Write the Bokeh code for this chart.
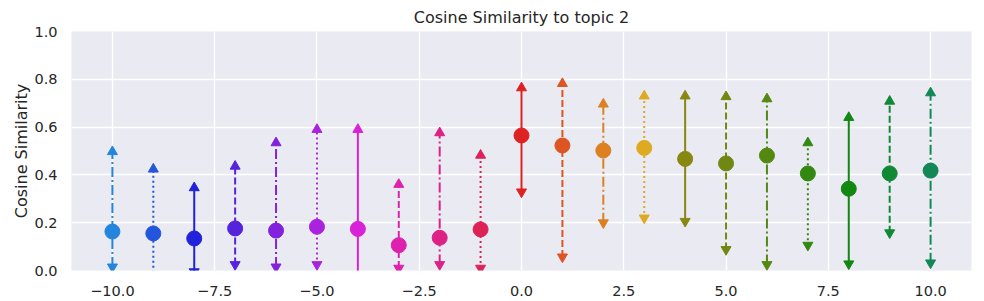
from bokeh.plotting import figure
from bokeh.models import ColumnDataSource, FixedTicker, Range1d, CustomJSTickFormatter
from bokeh.embed import file_html
from bokeh.resources import INLINE

# ---- data ----
xs = [-10, -9, -8, -7, -6, -5, -4, -3, -2, -1, 0, 1, 2, 3, 4, 5, 6, 7, 8, 9, 10]
means = [0.163, 0.155, 0.134, 0.176, 0.167, 0.183, 0.174, 0.106, 0.137, 0.172,
         0.565, 0.523, 0.502, 0.513, 0.467, 0.448, 0.481, 0.406, 0.342, 0.406, 0.418]
upper = [0.497, 0.424, 0.346, 0.436, 0.534, 0.590, 0.590, 0.360, 0.576, 0.482,
         0.764, 0.782, 0.696, 0.730, 0.730, 0.727, 0.718, 0.534, 0.640, 0.708, 0.743]
lower = [0.015, -0.030, -0.005, 0.025, 0.015, 0.025, -0.030, 0.010, 0.025, 0.010,
         0.329, 0.057, 0.200, 0.220, 0.206, 0.088, 0.025, 0.106, 0.028, 0.158, 0.032]
colors = ["#2385dd", "#2355dd", "#2222dd", "#5522dd", "#8322dd", "#aa22dd", "#d822d8",
          "#dd22b0", "#dd2285", "#dd2255", "#dd2222", "#dd5522", "#dd8022", "#ddaa22",
          "#888811", "#6e8811", "#558811", "#338811", "#118811", "#118833", "#118855"]
styles = ["dashdot", "dotted", "solid", "dashed"]  # cycle starting at x=-10
x_ticks = [-10, -7.5, -5, -2.5, 0, 2.5, 5, 7.5, 10]
y_ticks = [0.0, 0.2, 0.4, 0.6, 0.8, 1.0]
title = "Cosine Similarity to topic 2"
ylabel = "Cosine Similarity"

dash_map = {"solid": "solid", "dashed": "7 3", "dashdot": "10 3 2 3", "dotted": "2 3"}
FONT = "DejaVu Sans"
TXT = "#262626"

p = figure(frame_width=900, frame_height=239, output_backend="svg", toolbar_location=None,
           x_range=Range1d(-11, 11), y_range=Range1d(0, 1),
           min_border_left=71, min_border_right=4, min_border_top=24, min_border_bottom=22,
           background_fill_color="#eaeaf2", border_fill_color="white",
           outline_line_color=None, title=title)

p.title.align = "center"
p.title.text_font = FONT
p.title.text_font_size = "16px"
p.title.text_font_style = "normal"
p.title.text_color = TXT

fmt = CustomJSTickFormatter(code="return tick.toFixed(1).replace('-', '\\u2212');")
p.xaxis.ticker = FixedTicker(ticks=x_ticks)
p.yaxis.ticker = FixedTicker(ticks=y_ticks)
p.xaxis.formatter = fmt
p.yaxis.formatter = fmt
for ax in (p.xaxis, p.yaxis):
    ax.axis_line_color = None
    ax.major_tick_line_color = None
    ax.minor_tick_line_color = None
    ax.major_tick_out = 0
    ax.major_tick_in = 0
    ax.minor_tick_out = 0
    ax.minor_tick_in = 0
    ax.major_label_text_font = FONT
    ax.major_label_text_font_size = "14.5px"
    ax.major_label_text_color = TXT
p.xaxis.major_label_standoff = 15
p.yaxis.major_label_standoff = 14
p.yaxis.axis_label = ylabel
p.yaxis.axis_label_text_font = FONT
p.yaxis.axis_label_text_font_size = "16px"
p.yaxis.axis_label_text_font_style = "normal"
p.yaxis.axis_label_text_color = TXT
p.yaxis.axis_label_standoff = 0

p.grid.grid_line_color = "white"
p.grid.grid_line_width = 1.3

for i, x in enumerate(xs):
    style = styles[i % 4]
    src = ColumnDataSource(dict(x=[x], m=[means[i]], lo=[lower[i]], hi=[upper[i]], c=[colors[i]]))
    p.segment(x0="x", y0="lo", x1="x", y1="hi", source=src, line_color="c",
              line_width=2, line_dash=dash_map[style])
    p.scatter(x="x", y="hi", source=src, marker="triangle", size=10,
              fill_color="c", line_color="c")
    p.scatter(x="x", y="lo", source=src, marker="inverted_triangle", size=10,
              fill_color="c", line_color="c")
    p.scatter(x="x", y="m", source=src, marker="circle", size=15,
              fill_color="c", line_color="c")

open("out.html", "w").write(file_html(p, INLINE))
